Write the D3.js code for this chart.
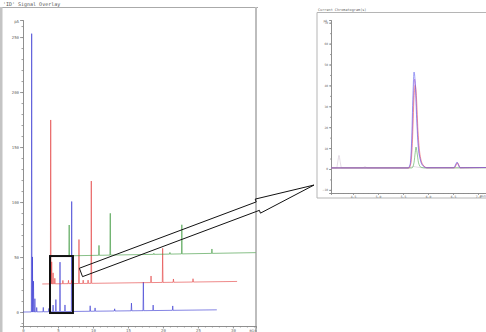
<!DOCTYPE html>
<html>
<head>
<meta charset="utf-8">
<script src="https://cdn.jsdelivr.net/npm/d3@7"></script>
<style>
  body { margin: 0; background: #fff; }
  svg { display: block; }
</style>
</head>
<body>
<svg id="chart" width="486" height="332"></svg>
<script>
// ---- main overlay data ----
// peaks: [run time (min), height above the trace's own baseline (pA)]
var bluePeaks = [[1.24, 253], [1.35, 50], [1.5, 28], [1.7, 12], [1.96, 4], [2.9, 4], [3.7, 3],
  [4.3, 6], [4.7, 11], [5.29, 45], [6.0, 6], [6.96, 100], [9.6, 5], [10.3, 3], [13.1, 2],
  [15.5, 7], [17.2, 26], [18.6, 5], [21.4, 4]];
var redPeaks = [[1.21, 149], [1.35, 20], [1.55, 10], [1.8, 5], [2.95, 3], [3.75, 3], [4.2, 3],
  [5.25, 40], [5.85, 3], [6.55, 3], [7.01, 93], [15.55, 6], [17.21, 31], [18.75, 3], [21.55, 3]];
var greenPeaks = [[1.1, 28], [5.36, 9], [6.97, 38], [13.2, 1], [15.5, 1.5], [17.2, 26.5], [21.5, 4]];

var traceColors = ["#3030d0", "#e23a3a", "#389638"];
var timeOffsets = [0, 2.75, 5.5];      // min
var pAOffsets = [0, 25.5, 51];          // pA
var runEnd = [27.7, 27.85, 27.75];      // min
var driftEnd = [2, 2.3, 3];             // pA of baseline drift at run end

var mainYTicks = [0, 50, 100, 150, 200, 250];
var mainXTicks = [0, 5, 10, 15, 20, 25, 30];
var zoomBox = { t0: 3.86, t1: 7.14, v0: -0.9, v1: 50.9 };

// ---- inset (zoomed) data: [time (min), signal (pA)] ----
var insetGray = [[4.06, 0.5], [4.17, 0.5], [4.2, 4], [4.22, 6.5], [4.24, 4], [4.27, 0.6], [4.7, 0.6],
  [4.74, 1.1], [4.78, 0.6], [5.62, 0.5], [5.7, 1.2], [5.8, 0.8], [5.95, 0.5], [7.16, 0.5]];
var insetGreen = [[4.06, 0.5], [5.68, 0.5], [5.72, 3], [5.745, 8], [5.76, 10.5], [5.78, 8], [5.81, 3],
  [5.86, 0.8], [5.95, 0.5], [7.16, 0.6]];
var insetMagenta = [[4.06, 0.5], [5.61, 0.5], [5.65, 2.5], [5.68, 13], [5.71, 35], [5.73, 43], [5.755, 38],
  [5.78, 24], [5.81, 11], [5.85, 4.5], [5.91, 1.4], [5.98, 0.6], [6.52, 0.6], [6.56, 2.2], [6.58, 2.8],
  [6.6, 2.2], [6.64, 0.6], [7.16, 0.7]];
var insetRed = [[4.06, 0.5], [5.62, 0.5], [5.66, 3], [5.69, 14], [5.72, 34], [5.745, 40], [5.77, 34],
  [5.8, 18], [5.84, 7], [5.9, 2], [5.98, 0.6], [6.53, 0.6], [6.57, 2.2], [6.59, 3], [6.61, 2.2],
  [6.65, 0.6], [7.16, 0.7]];
var insetBlue = [[4.06, 0.5], [5.6, 0.5], [5.64, 2], [5.67, 12], [5.7, 36], [5.72, 46.4], [5.745, 41],
  [5.77, 26], [5.8, 12], [5.84, 5], [5.9, 1.5], [5.97, 0.6], [6.52, 0.6], [6.56, 2.5], [6.58, 3.3],
  [6.6, 2.5], [6.64, 0.6], [7.16, 0.7]];
var insetColors = ["#d2c4d4", "#50a850", "#c060c8", "#ee6060", "#6060ee"];
var insetYTicks = [-10, 0, 10, 20, 30, 40, 50, 60, 70];
var insetXTicks = [4.5, 5, 5.5, 6, 6.5, 7];

var svg = d3.select("#chart");
var mono = "'DejaVu Sans Mono', monospace";

// ---- main panel frame ----
svg.append("line").attr("x1", 0).attr("x2", 258).attr("y1", 7.5).attr("y2", 7.5)
  .attr("stroke", "#aaa").attr("stroke-width", 1);
svg.append("rect").attr("x", 0).attr("y", 7).attr("width", 2.5).attr("height", 325).attr("fill", "#c4c4c4");
svg.append("rect").attr("x", 255).attr("y", 7).attr("width", 2).attr("height", 325).attr("fill", "#bdbdbd");
svg.append("text").attr("x", 3).attr("y", 5.5).attr("font-family", mono).attr("font-size", 5)
  .attr("fill", "#555").text("'ID' Signal Overlay");

var xMain = d3.scaleLinear().domain([0, 33.3]).range([23, 256]);
var yMain = d3.scaleLinear().domain([-12.7, 265.5]).range([326, 20]);

function styleAxis(g, size) {
  g.attr("font-family", mono).attr("font-size", size);
  g.selectAll("path, line").attr("stroke", "#8a8a8a").attr("stroke-width", 0.8);
  g.selectAll("text").attr("fill", "#666");
}

// minor ticks first, then major
var yMinor = svg.append("g").attr("transform", "translate(23,0)")
  .call(d3.axisLeft(yMain).tickValues(d3.range(-10, 261, 10)).tickSize(1.5).tickFormat(""));
styleAxis(yMinor, 4);
var yAxis = svg.append("g").attr("transform", "translate(23,0)")
  .call(d3.axisLeft(yMain).tickValues(mainYTicks).tickSize(3).tickPadding(1));
styleAxis(yAxis, 4);
svg.append("text").attr("x", 19).attr("y", 23).attr("text-anchor", "end")
  .attr("font-family", mono).attr("font-size", 4).attr("fill", "#666").text("pA");

var xMinor = svg.append("g").attr("transform", "translate(0,326)")
  .call(d3.axisBottom(xMain).tickValues(d3.range(0, 34, 1)).tickSize(1.5).tickFormat(""));
styleAxis(xMinor, 4);
var xAxis = svg.append("g").attr("transform", "translate(0,326)")
  .call(d3.axisBottom(xMain).tickValues(mainXTicks).tickSize(2.5).tickPadding(1));
styleAxis(xAxis, 4);
svg.append("text").attr("x", 253).attr("y", 332).attr("text-anchor", "middle")
  .attr("font-family", mono).attr("font-size", 4).attr("fill", "#666").text("min");

// ---- chromatogram traces (spikes on a drifting baseline) ----
var allPeaks = [bluePeaks, redPeaks, greenPeaks];
var spikeLine = d3.line().x(d => xMain(d[0])).y(d => yMain(d[1]));

allPeaks.forEach(function(peaks, i) {
  var base = d3.scaleLinear().domain([0, runEnd[i]]).range([pAOffsets[i], pAOffsets[i] + driftEnd[i]]);
  var pts = [[timeOffsets[i], base(0)]];
  peaks.slice().sort((a, b) => a[0] - b[0]).forEach(function(p) {
    var t = p[0];
    pts.push([t - 0.05 + timeOffsets[i], base(t - 0.05)]);
    pts.push([t + timeOffsets[i], base(t) + p[1]]);
    pts.push([t + 0.05 + timeOffsets[i], base(t + 0.05)]);
  });
  pts.push([runEnd[i] + timeOffsets[i], base(runEnd[i])]);
  svg.append("path").attr("d", spikeLine(pts)).attr("fill", "none")
    .attr("stroke", traceColors[i]).attr("stroke-width", 0.6).attr("stroke-linejoin", "round");
});

// zoom box
svg.append("rect")
  .attr("x", xMain(zoomBox.t0)).attr("y", yMain(zoomBox.v1))
  .attr("width", xMain(zoomBox.t1) - xMain(zoomBox.t0))
  .attr("height", yMain(zoomBox.v0) - yMain(zoomBox.v1))
  .attr("fill", "none").attr("stroke", "#111").attr("stroke-width", 2);

// ---- inset panel ----
var insetLeft = 317, insetTop = 12.5, insetBottom = 198;
svg.append("path")
  .attr("d", `M486,${insetTop}H${insetLeft}V${insetBottom}H486`)
  .attr("fill", "none").attr("stroke", "#b5b5b5").attr("stroke-width", 1);
svg.append("text").attr("x", 318).attr("y", 10.5).attr("font-family", mono).attr("font-size", 3.5)
  .attr("fill", "#666").text("Current Chromatogram(s)");

var xInset = d3.scaleLinear().domain([4.06, 7.16]).range([331, 486]);
var yInset = d3.scaleLinear().domain([-11.5, 71.3]).range([193, 20]);

var iyMinor = svg.append("g").attr("transform", "translate(331,0)")
  .call(d3.axisLeft(yInset).tickValues(d3.range(-10, 71, 5)).tickSize(1).tickFormat(""));
styleAxis(iyMinor, 3);
var iyAxis = svg.append("g").attr("transform", "translate(331,0)")
  .call(d3.axisLeft(yInset).tickValues(insetYTicks).tickSize(2).tickPadding(1));
styleAxis(iyAxis, 3);
svg.append("text").attr("x", 327).attr("y", 21.5).attr("text-anchor", "end")
  .attr("font-family", mono).attr("font-size", 3).attr("fill", "#666").text("pA");

var ixMinor = svg.append("g").attr("transform", "translate(0,193)")
  .call(d3.axisBottom(xInset).tickValues(d3.range(4.1, 7.15, 0.1)).tickSize(1).tickFormat(""));
styleAxis(ixMinor, 3);
var ixAxis = svg.append("g").attr("transform", "translate(0,193)")
  .call(d3.axisBottom(xInset).tickValues(insetXTicks).tickSize(2).tickPadding(0.5));
styleAxis(ixAxis, 3);
svg.append("text").attr("x", 483).attr("y", 197).attr("text-anchor", "middle")
  .attr("font-family", mono).attr("font-size", 3).attr("fill", "#666").text("min");

var insetLine = d3.line().x(d => xInset(d[0])).y(d => yInset(d[1])).curve(d3.curveMonotoneX);
[insetGray, insetGreen, insetMagenta, insetRed, insetBlue].forEach(function(tr, i) {
  svg.append("path").attr("d", insetLine(tr)).attr("fill", "none")
    .attr("stroke", insetColors[i]).attr("stroke-width", 0.6);
});

// ---- hollow arrow from zoom box to inset ----
var tail = [xMain(zoomBox.t1) + 8, yMain(36)];
var tip = [insetLeft - 3, yInset(-7.7)];
var dx = tip[0] - tail[0], dy = tip[1] - tail[1];
var len = Math.sqrt(dx * dx + dy * dy);
var u = [dx / len, dy / len], n = [-u[1], u[0]];
var shaftHalf = 4.5, headHalf = 7.5, headLen = 60;
var base = [tip[0] - u[0] * headLen, tip[1] - u[1] * headLen];
function off(p, k) { return [p[0] + n[0] * k, p[1] + n[1] * k]; }
var arrowPts = [off(tail, -shaftHalf), off(base, -shaftHalf), off(base, -headHalf), tip,
  off(base, headHalf), off(base, shaftHalf), off(tail, shaftHalf)];
svg.append("path").attr("d", d3.line()(arrowPts) + "Z")
  .attr("fill", "none").attr("stroke", "#111").attr("stroke-width", 1).attr("stroke-linejoin", "miter");
</script>
</body>
</html>
